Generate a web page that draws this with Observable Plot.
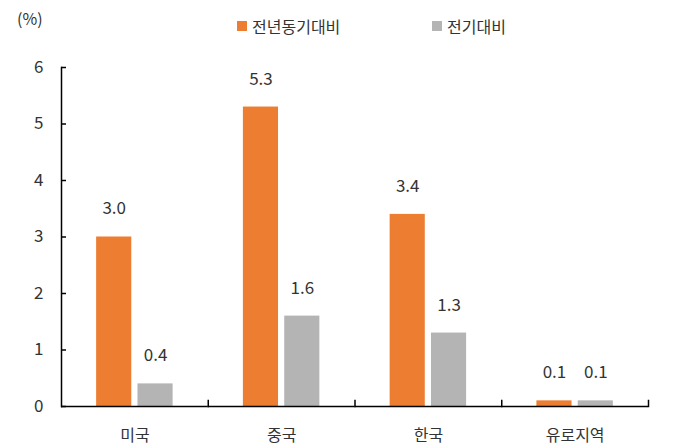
<!DOCTYPE html>
<html><head><meta charset="utf-8">
<script src="https://cdn.jsdelivr.net/npm/d3@7"></script>
<script src="https://cdn.jsdelivr.net/npm/@observablehq/plot@0.6"></script>
<style>
body{margin:0;background:#fff;font-family:"Noto Sans CJK KR","Noto Sans",sans-serif;}
#wrap{width:675px;position:relative;}
#head{position:relative;height:50px;color:#333;font-size:16px;}
.unit{position:absolute;left:17px;top:6px;}
.leg{position:absolute;top:14px;display:flex;align-items:center;}
.sw{width:10px;height:10px;margin-right:5px;}
</style>
</head><body>
<div id="wrap">
<div id="head"><span class="unit">(%)</span></div>
<div id="chart"></div>
</div>
<script>
const categories = ["미국", "중국", "한국", "유로지역"];
const seriesNames = ["전년동기대비", "전기대비"];
const yoy = [3.0, 5.3, 3.4, 0.1];
const qoq = [0.4, 1.6, 1.3, 0.1];
const colors = ["#ED7D31", "#B4B4B4"];
const yTicks = [0, 1, 2, 3, 4, 5, 6];

const data = [];
categories.forEach((c, i) => {
  data.push({cat: c, series: seriesNames[0], value: yoy[i]});
  data.push({cat: c, series: seriesNames[1], value: qoq[i]});
});

// legend
const head = document.getElementById("head");
const legPos = [237, 432];
seriesNames.forEach((s, i) => {
  const d = document.createElement("div");
  d.className = "leg";
  d.style.left = legPos[i] + "px";
  d.innerHTML = `<span class="sw" style="background:${colors[i]}"></span><span>${s}</span>`;
  head.appendChild(d);
});

const H = 398, mt = 17, mb = 42;
const chart = Plot.plot({
  width: 675,
  height: H,
  marginTop: mt,
  marginBottom: mb,
  marginLeft: 61,
  marginRight: 27,
  style: {fontFamily: '"Noto Sans CJK KR", sans-serif', color: "#333", background: "#fff"},
  fx: {domain: categories, padding: 0, round: false, label: null},
  x: {domain: seriesNames, paddingInner: 0.15, paddingOuter: 0.85, round: false, axis: null},
  y: {domain: [0, 6], axis: null},
  color: {domain: seriesNames, range: colors},
  marks: [
    Plot.barY(data, {fx: "cat", x: "series", y: "value", fill: "series"}),
    Plot.text(data, {fx: "cat", x: "series", y: "value", text: d => d.value.toFixed(1), dy: -28, fontSize: 17, fill: "#333"}),
    Plot.ruleY([0], {stroke: "#000", strokeWidth: 1.5}),
    Plot.frame({anchor: "right", insetTop: H - mt - mb - 6, stroke: "#000", strokeWidth: 1.5}),
    Plot.axisY(yTicks, {anchor: "left", tickSize: -5, tickPadding: 23, tickFormat: d3.format("d"), fontSize: 17, stroke: "#000", strokeWidth: 1.5, fill: "#333", label: null}),
    Plot.frame({anchor: "left", facet: "super", stroke: "#000", strokeWidth: 1.5}),
    Plot.axisFx({anchor: "bottom", tickSize: 0, tickPadding: 23, fontSize: 16, fill: "#333", label: null})
  ]
});
document.getElementById("chart").appendChild(chart);
</script>
</body></html>
